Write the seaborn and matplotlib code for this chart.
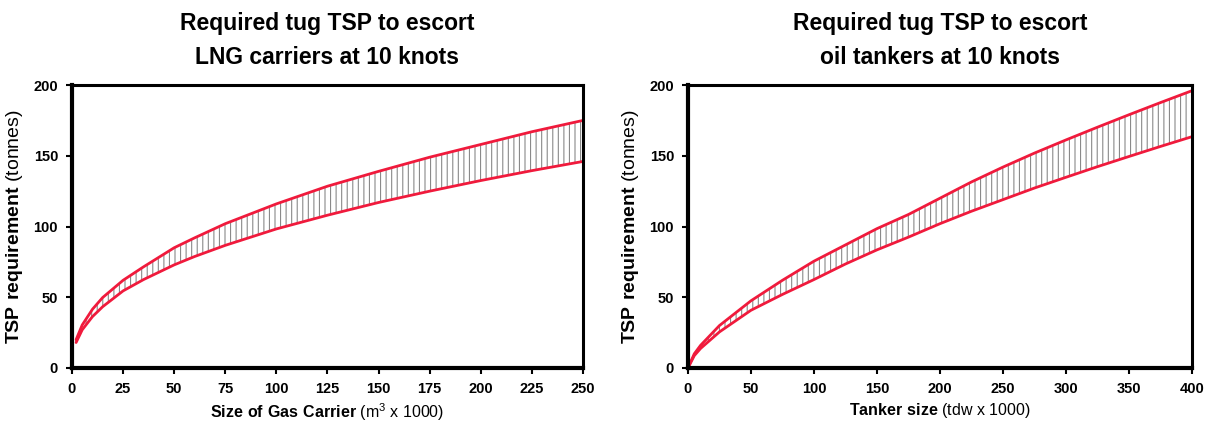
# TSP requirement charts for escort tugs

import matplotlib
matplotlib.use('Agg')
import matplotlib.pyplot as plt
import seaborn as sns
import pandas as pd

# LNG carriers (size in m3 x 1000)
lng_size = [2, 5, 10, 15, 25, 35, 50, 60, 75, 100, 125, 150, 175, 200, 225, 250]
lng_upper = [20, 30.4, 41.5, 49.8, 62, 71.5, 85, 92, 102, 116, 128.5, 139, 149, 158, 167, 175]
lng_lower = [18, 27, 36.3, 43.3, 54.5, 62.5, 72.9, 78.8, 86.7, 98.3, 108, 117, 125, 132.5, 139.5, 146]

# oil tankers (size in tdw x 1000)
tanker_size = [0, 5, 10, 25, 50, 75, 100, 125, 150, 175, 200, 225, 250, 275, 300, 325, 350, 375, 400]
tanker_upper = [0, 10, 16, 30, 47.5, 62, 75.5, 87, 98.5, 108.5, 120, 131.5, 142, 151.9,
                161.2, 170.2, 179, 187.6, 196]
tanker_lower = [0, 8.7, 13.8, 25.5, 40.8, 52, 62.5, 73.5, 83.5, 92.5, 102, 110.8, 119,
                127.2, 134.8, 142.3, 149.5, 156.6, 163.5]

titles = ['Required tug TSP to escort\nLNG carriers at 10 knots',
          'Required tug TSP to escort\noil tankers at 10 knots']
xlabels = [r'$\mathbf{Size\ of\ Gas\ Carrier}$ (m$^3$ x 1000)',
           r'$\mathbf{Tanker\ size}$ (tdw x 1000)']
ylabel = r'$\mathbf{TSP\ requirement}$ (tonnes)'

sns.set_style('white')
plt.rcParams['font.family'] = ['Liberation Sans', 'DejaVu Sans']
plt.rcParams['mathtext.fontset'] = 'custom'
plt.rcParams['mathtext.rm'] = 'Liberation Sans'
plt.rcParams['mathtext.bf'] = 'Liberation Sans:bold'
plt.rcParams['hatch.linewidth'] = 0.8
plt.rcParams['text.color'] = 'black'
plt.rcParams['axes.labelcolor'] = 'black'
plt.rcParams['xtick.color'] = 'black'
plt.rcParams['ytick.color'] = 'black'

red = '#f01a3c'

fig = plt.figure(figsize=(12.08, 4.30), dpi=100)
ax1 = fig.add_axes([0.0596, 0.1442, 0.423, 0.658])
ax2 = fig.add_axes([0.5695, 0.1442, 0.4172, 0.658])

panels = [
    (ax1, lng_size, lng_upper, lng_lower, 250, 25),
    (ax2, tanker_size, tanker_upper, tanker_lower, 400, 50),
]

for i, (ax, xs, up, lo, xmax, xstep) in enumerate(panels):
    df = pd.DataFrame({'size': xs, 'upper': up, 'lower': lo})

    # hatched band between the two limits
    ax.fill_between(df['size'], df['lower'], df['upper'], facecolor='none',
                    edgecolor='#8a8a8a', hatch='|||', linewidth=0)
    sns.lineplot(data=df, x='size', y='upper', ax=ax, color=red, lw=2)
    sns.lineplot(data=df, x='size', y='lower', ax=ax, color=red, lw=2)

    ax.set_xlim(0, xmax)
    ax.set_ylim(0, 200)
    ax.set_xticks(range(0, xmax + 1, xstep))
    ax.set_yticks(range(0, 201, 50))
    ax.tick_params(axis='both', direction='out', length=4, width=1.5,
                   labelsize=10.5, bottom=True, left=True, pad=6)
    for lab in ax.get_xticklabels() + ax.get_yticklabels():
        lab.set_fontweight('bold')
    for side, sp in ax.spines.items():
        sp.set_visible(True)
        sp.set_color('black')
        sp.set_linewidth(3 if side in ('left', 'bottom') else 2.2)

    ax.set_xlabel(xlabels[i], fontsize=11.5, labelpad=4)
    ax.set_ylabel(ylabel, fontsize=14, labelpad=6)
    ax.set_title(titles[i], fontsize=16.5, fontweight='bold', pad=15, linespacing=1.6)

fig.savefig('out.png', dpi=100)
